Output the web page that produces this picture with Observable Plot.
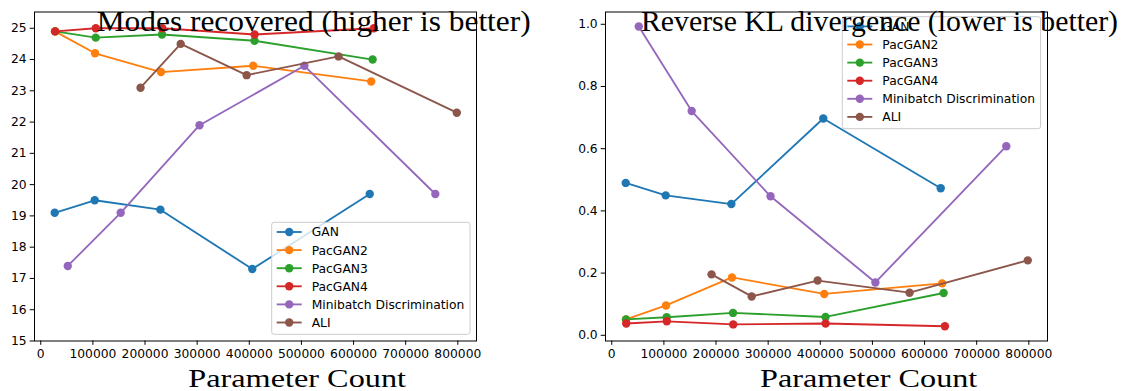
<!DOCTYPE html>
<html>
<head>
<meta charset="utf-8">
<script src="https://cdn.jsdelivr.net/npm/d3@7"></script>
<script src="https://cdn.jsdelivr.net/npm/@observablehq/plot@0.6"></script>
<style>
  body { margin: 0; background: #fff; }
  #wrap { display: flex; width: 1143px; height: 391px; }
  #wrap > div { flex: none; }
  #wrap svg { overflow: visible; display: block; }
</style>
</head>
<body>
<div id="wrap"><div id="left"></div><div id="right"></div></div>
<script>
// Methods and their matplotlib tab10 colours
const methods = ["GAN", "PacGAN2", "PacGAN3", "PacGAN4", "Minibatch Discrimination", "ALI"];
const colors = ["#1f77b4", "#ff7f0e", "#2ca02c", "#d62728", "#9467bd", "#8c564b"];

// Discriminator parameter counts for each architecture size
const paramsGAN       = [26800, 103500, 229400, 405700, 631000];
const paramsPacGAN2   = [27200, 104100, 230600, 407600, 633800];
const paramsPacGAN3   = [27500, 105400, 232600, 410000, 636500];
const paramsPacGAN4   = [27800, 105600, 233000, 410200, 639000];
const paramsMinibatch = [51800, 153300, 304500, 505700, 756800];
const paramsALI       = [191400, 268400, 394900, 571200, 798000];

// Modes recovered (out of 25)
const modesGAN       = [19.1, 19.5, 19.2, 17.3, 19.7];
const modesPacGAN2   = [24.9, 24.2, 23.6, 23.8, 23.3];
const modesPacGAN3   = [24.9, 24.7, 24.8, 24.6, 24.0];
const modesPacGAN4   = [24.9, 25.0, 25.0, 24.8, 25.0];
const modesMinibatch = [17.4, 19.1, 21.9, 23.8, 19.7];
const modesALI       = [23.1, 24.5, 23.5, 24.1, 22.3];

// Reverse KL divergence
const klGAN       = [0.490, 0.450, 0.422, 0.697, 0.473];
const klPacGAN2   = [0.051, 0.096, 0.186, 0.133, 0.167];
const klPacGAN3   = [0.051, 0.058, 0.072, 0.059, 0.136];
const klPacGAN4   = [0.038, 0.045, 0.035, 0.038, 0.029];
const klMinibatch = [0.993, 0.721, 0.447, 0.170, 0.608];
const klALI       = [0.196, 0.125, 0.176, 0.137, 0.241];

// Tick values
const xTicks = [0, 100000, 200000, 300000, 400000, 500000, 600000, 700000, 800000];
const modesTicks = [15, 16, 17, 18, 19, 20, 21, 22, 23, 24, 25];
const klTicks = [0, 0.2, 0.4, 0.6, 0.8, 1.0];

const paramSets = [paramsGAN, paramsPacGAN2, paramsPacGAN3, paramsPacGAN4, paramsMinibatch, paramsALI];
const modeSets = [modesGAN, modesPacGAN2, modesPacGAN3, modesPacGAN4, modesMinibatch, modesALI];
const klSets = [klGAN, klPacGAN2, klPacGAN3, klPacGAN4, klMinibatch, klALI];

function rows(valueSets) {
  return methods.map((method, i) =>
    paramSets[i].map((params, j) => ({method, params, value: valueSets[i][j]})));
}

const FS = 12.3;          // tick / legend font size
const LW = 1.84;          // line width
const R = 4.2;            // marker radius

function panel({width, yDomain, yTicks, yFormat, series}) {
  const marks = [];
  // each series: line then markers, in legend order
  series.forEach(s => {
    marks.push(Plot.line(s, {x: "params", y: "value", stroke: "method", strokeWidth: LW}));
    marks.push(Plot.dot(s, {x: "params", y: "value", fill: "method", r: R, stroke: "none"}));
  });
  marks.push(Plot.frame({stroke: "black", strokeWidth: 1}));
  marks.push(Plot.axisX({ticks: xTicks, tickFormat: d => String(d), tickSize: 4.3, tickPadding: 3.5,
    label: null, fontSize: FS, stroke: "black"}));
  marks.push(Plot.axisY({ticks: yTicks, tickFormat: yFormat, tickSize: 4.3, tickPadding: 3.5,
    label: null, fontSize: FS, stroke: "black"}));
  return Plot.plot({
    width, height: 391,
    marginLeft: 34, marginRight: width - 476, marginTop: 11.5, marginBottom: 50.5,
    style: {fontFamily: "DejaVu Sans", fontSize: FS + "px", background: "white", color: "black"},
    x: {domain: [-12000, 835800]},
    y: {domain: yDomain},
    color: {domain: methods, range: colors},
    marks
  });
}

function legend(svg, color, left, top) {
  const g = d3.select(svg).append("g").attr("text-anchor", "start");
  g.append("rect")
    .attr("x", left).attr("y", top).attr("width", 198.3).attr("height", 112)
    .attr("rx", 2.5).attr("fill", "white").attr("fill-opacity", 0.8)
    .attr("stroke", "#cccccc").attr("stroke-width", 1);
  methods.forEach((m, i) => {
    const cy = top + 9.7 + i * 18.1;
    const c = color.apply(m);
    g.append("line").attr("x1", left + 5).attr("x2", left + 30).attr("y1", cy).attr("y2", cy)
      .attr("stroke", c).attr("stroke-width", LW);
    g.append("circle").attr("cx", left + 17.5).attr("cy", cy).attr("r", R).attr("fill", c);
    g.append("text").attr("x", left + 40).attr("y", cy).attr("dy", "0.36em")
      .attr("text-anchor", "start")
      .attr("font-family", "DejaVu Sans").attr("font-size", FS).attr("fill", "black").text(m);
  });
}

function serifText(svg, str, x, y, size, len) {
  d3.select(svg).append("text")
    .attr("x", x).attr("y", y)
    .attr("text-anchor", "start")
    .attr("font-family", "Liberation Serif").attr("font-size", size).attr("fill", "black")
    .attr("textLength", len).attr("lengthAdjust", "spacingAndGlyphs")
    .text(str);
}

// Left: modes recovered
const left = panel({
  width: 571, yDomain: [15, 25.52], yTicks: modesTicks, yFormat: d => String(d),
  series: rows(modeSets)
});
document.getElementById("left").append(left);
legend(left, left.scale("color"), 271.7, 222.3);
serifText(left, "Modes recovered (higher is better)", 96.7, 30.7, 29, 434);
serifText(left, "Parameter Count", 188.3, 386.5, 25, 217.7);

// Right: reverse KL divergence
const right = panel({
  width: 572, yDomain: [-0.0183, 1.0395], yTicks: klTicks, yFormat: d3.format(".1f"),
  series: rows(klSets)
});
document.getElementById("right").append(right);
legend(right, right.scale("color"), 842.3 - 571, 16.7);
serifText(right, "Reverse KL divergence (lower is better)", 641 - 571, 30.7, 29, 477);
serifText(right, "Parameter Count", 760 - 571, 386.5, 25, 217.3);
</script>
</body>
</html>
